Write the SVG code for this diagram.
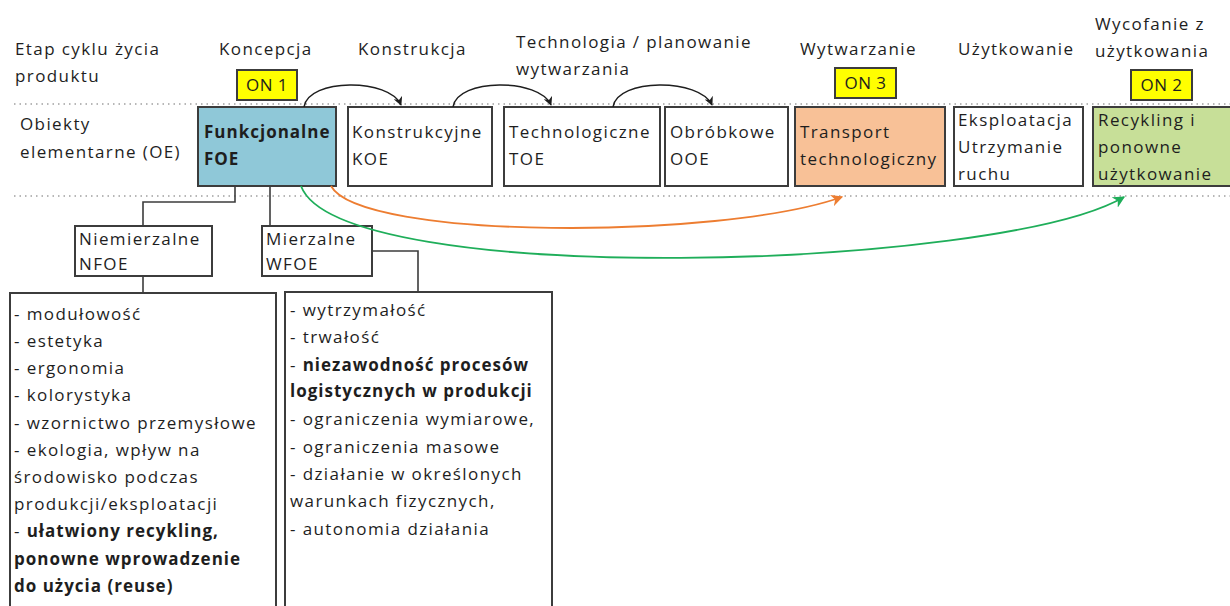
<svg xmlns="http://www.w3.org/2000/svg" width="1230" height="606" viewBox="0 0 1230 606">
<defs>
<style>
text{font-family:"Open Sans","Liberation Sans",sans-serif;font-size:17px;letter-spacing:1.4px;fill:#1e1e1e}
.b{font-weight:bold;letter-spacing:1px}
.box{stroke:#3c3c3c;stroke-width:2;fill:#fff}
.on{fill:#ffff00;stroke:#3c3c3c;stroke-width:2}
.dot{stroke:#a0a0a0;stroke-width:1.5;stroke-dasharray:1.5 4;fill:none}
.ln{stroke:#3c3c3c;stroke-width:1.6;fill:none}
.arc{stroke:#1e1e1e;stroke-width:1.5;fill:none}
</style>
<marker id="ab" viewBox="0 0 10 10" refX="9" refY="5" markerWidth="9" markerHeight="9" orient="auto" markerUnits="userSpaceOnUse"><path d="M0,0 L10,5 L0,10 L3,5 z" fill="#1e1e1e"/></marker>
<marker id="ao" viewBox="0 0 10 10" refX="9" refY="5" markerWidth="12" markerHeight="12" orient="auto" markerUnits="userSpaceOnUse"><path d="M0,0 L10,5 L0,10 L3,5 z" fill="#ed7d31"/></marker>
<marker id="ag" viewBox="0 0 10 10" refX="9" refY="5" markerWidth="12" markerHeight="12" orient="auto" markerUnits="userSpaceOnUse"><path d="M0,0 L10,5 L0,10 L3,5 z" fill="#1fae5a"/></marker>
</defs>
<rect width="1230" height="606" fill="#fff"/>
<g id="guides">
<line class="dot" x1="14" y1="104" x2="1230" y2="104"/>
<line class="dot" x1="14" y1="196" x2="1230" y2="196"/>
</g>
<g id="headers">
<text x="15" y="55">Etap cyklu życia</text>
<text x="15" y="82">produktu</text>
<text x="219" y="55">Koncepcja</text>
<text x="358" y="55">Konstrukcja</text>
<text x="516" y="48">Technologia / planowanie</text>
<text x="516" y="75">wytwarzania</text>
<text x="800" y="55">Wytwarzanie</text>
<text x="958" y="55">Użytkowanie</text>
<text x="1095" y="30">Wycofanie z</text>
<text x="1095" y="57">użytkowania</text>
<text x="20" y="130">Obiekty</text>
<text x="20" y="158">elementarne (OE)</text>
</g>
<g id="on1"><rect class="on" x="237" y="70" width="60" height="30"/><text x="267" y="91" text-anchor="middle" style="letter-spacing:0.5px">ON 1</text></g>
<g id="on3"><rect class="on" x="835" y="68" width="61" height="30"/><text x="865.5" y="89" text-anchor="middle" style="letter-spacing:0.5px">ON 3</text></g>
<g id="on2"><rect class="on" x="1131" y="70" width="61" height="30"/><text x="1161.5" y="91" text-anchor="middle" style="letter-spacing:0.5px">ON 2</text></g>
<g id="foe"><rect class="box" x="198" y="107" width="138" height="79" style="fill:#8fc8d8"/><text class="b" x="204" y="138">Funkcjonalne</text><text class="b" x="204" y="165">FOE</text></g>
<g id="koe"><rect class="box" x="348" y="107" width="144" height="79"/><text x="352" y="138">Konstrukcyjne</text><text x="352" y="165">KOE</text></g>
<g id="toe"><rect class="box" x="504" y="107" width="156" height="79"/><text x="509" y="138">Technologiczne</text><text x="509" y="165">TOE</text></g>
<g id="ooe"><rect class="box" x="665" y="107" width="123" height="79"/><text x="670" y="138">Obróbkowe</text><text x="670" y="165">OOE</text></g>
<g id="transport"><rect class="box" x="795" y="107" width="150" height="79" style="fill:#f8c197"/><text x="800" y="138">Transport</text><text x="800" y="165">technologiczny</text></g>
<g id="eksploatacja"><rect class="box" x="954" y="107" width="129" height="79"/><text x="958" y="126">Eksploatacja</text><text x="958" y="153">Utrzymanie</text><text x="958" y="180">ruchu</text></g>
<g id="recykling"><rect class="box" x="1093" y="107" width="145" height="79" style="fill:#c7df98"/><text x="1098" y="126">Recykling i</text><text x="1098" y="153">ponowne</text><text x="1098" y="180">użytkowanie</text></g>
<g id="nfoe"><rect class="box" x="75" y="226" width="137" height="50"/><text x="79" y="245">Niemierzalne</text><text x="79" y="270">NFOE</text></g>
<g id="wfoe"><rect class="box" x="262" y="226" width="110" height="50"/><text x="266" y="245">Mierzalne</text><text x="266" y="270">WFOE</text></g>
<g id="nfoe-list"><rect class="box" x="10" y="293" width="266" height="330"/>
<text x="14" y="320">- modułowość</text>
<text x="14" y="347">- estetyka</text>
<text x="14" y="374">- ergonomia</text>
<text x="14" y="401">- kolorystyka</text>
<text x="14" y="429">- wzornictwo przemysłowe</text>
<text x="14" y="456">- ekologia, wpływ na</text>
<text x="14" y="483">środowisko podczas</text>
<text x="14" y="510">produkcji/eksploatacji</text>
<text x="14" y="537"><tspan>- </tspan><tspan class="b">ułatwiony recykling,</tspan></text>
<text class="b" x="14" y="565">ponowne wprowadzenie</text>
<text class="b" x="14" y="592">do użycia (reuse)</text>
</g>
<g id="wfoe-list"><rect class="box" x="285" y="292" width="267" height="330"/>
<text x="290" y="316">- wytrzymałość</text>
<text x="290" y="343">- trwałość</text>
<text x="290" y="371"><tspan>- </tspan><tspan class="b">niezawodność procesów</tspan></text>
<text class="b" x="290" y="397">logistycznych w produkcji</text>
<text x="290" y="425">- ograniczenia wymiarowe,</text>
<text x="290" y="453">- ograniczenia masowe</text>
<text x="290" y="480">- działanie w określonych</text>
<text x="290" y="507">warunkach fizycznych,</text>
<text x="290" y="535">- autonomia działania</text>
</g>
<g id="connectors">
<path class="ln" d="M235,186 V202 H143 V226"/>
<path class="ln" d="M270,186 V226"/>
<path class="ln" d="M143,276 V293"/>
<path class="ln" d="M372,251 H418 V292"/>
<path class="arc" d="M304,107 C308,78 390,78 401,105" marker-end="url(#ab)"/>
<path class="arc" d="M453,107 C457,78 540,78 551,105" marker-end="url(#ab)"/>
<path class="arc" d="M613,107 C617,78 700,78 712,105" marker-end="url(#ab)"/>
<path d="M331,186 C360,240 720,240 842,197" stroke="#ed7d31" stroke-width="1.8" fill="none" marker-end="url(#ao)"/>
<path d="M301,186 C340,290 1000,270 1124,197" stroke="#1fae5a" stroke-width="1.8" fill="none" marker-end="url(#ag)"/>
</g>
</svg>
